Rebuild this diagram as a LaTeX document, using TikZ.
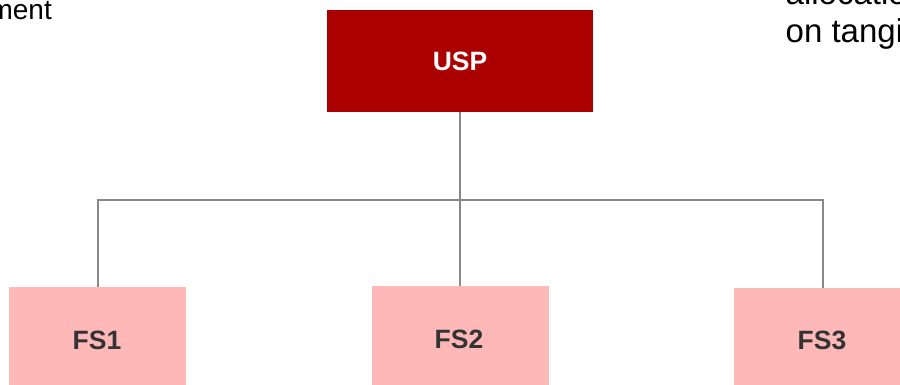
\documentclass[tikz,border=0pt]{standalone}
\usepackage{fontspec}
\setmainfont{Liberation Sans}
\definecolor{uspred}{HTML}{AA0000}
\definecolor{fspink}{HTML}{FFB8B8}
\definecolor{fstext}{HTML}{333333}
\definecolor{linegray}{HTML}{888888}
\begin{document}
\begin{tikzpicture}[x=1pt,y=-1pt,
  topbox/.style={rectangle, fill=uspred, text=white, minimum width=266pt, minimum height=102pt, inner sep=0pt, font=\fontsize{26.5}{30}\selectfont\bfseries},
  fsbox/.style={rectangle, fill=fspink, text=fstext, minimum width=177pt, minimum height=100pt, inner sep=0pt, font=\fontsize{26.5}{30}\selectfont\bfseries},
  conn/.style={draw=linegray, line width=2pt},
  sidetext/.style={inner sep=0pt, text=black}]
\useasboundingbox (0,0) rectangle (900,385);
\node[topbox] (usp) at (460,61) {USP};
\node[fsbox] (fs1) at (97.5,337) {};
\node[fsbox] (fs2) at (460,336) {};
\node[fsbox] (fs3) at (822.5,338) {};
\node[font=\fontsize{26.5}{30}\selectfont\bfseries, text=fstext, inner sep=0pt] (l1) at (97,340) {FS1};
\node[font=\fontsize{26.5}{30}\selectfont\bfseries, text=fstext, inner sep=0pt] (l2) at (459,339) {FS2};
\node[font=\fontsize{26.5}{30}\selectfont\bfseries, text=fstext, inner sep=0pt] (l3) at (822,340) {FS3};
\coordinate (j) at (460,200);
\draw[conn] (usp.south) -- (j);
\draw[conn] (j) -| (fs1.north);
\draw[conn] (j) -- (fs2.north);
\draw[conn] (j) -| (fs3.north);
\node[sidetext, anchor=base east, font=\fontsize{28}{32}\selectfont] (t1) at (52,19.5) {ment};
\node[sidetext, anchor=base west, font=\fontsize{33}{38}\selectfont] (t2) at (785.5,5) {allocatio};
\node[sidetext, anchor=base west, font=\fontsize{33}{38}\selectfont] (t3) at (785.5,43) {on tangi};
\end{tikzpicture}
\end{document}
